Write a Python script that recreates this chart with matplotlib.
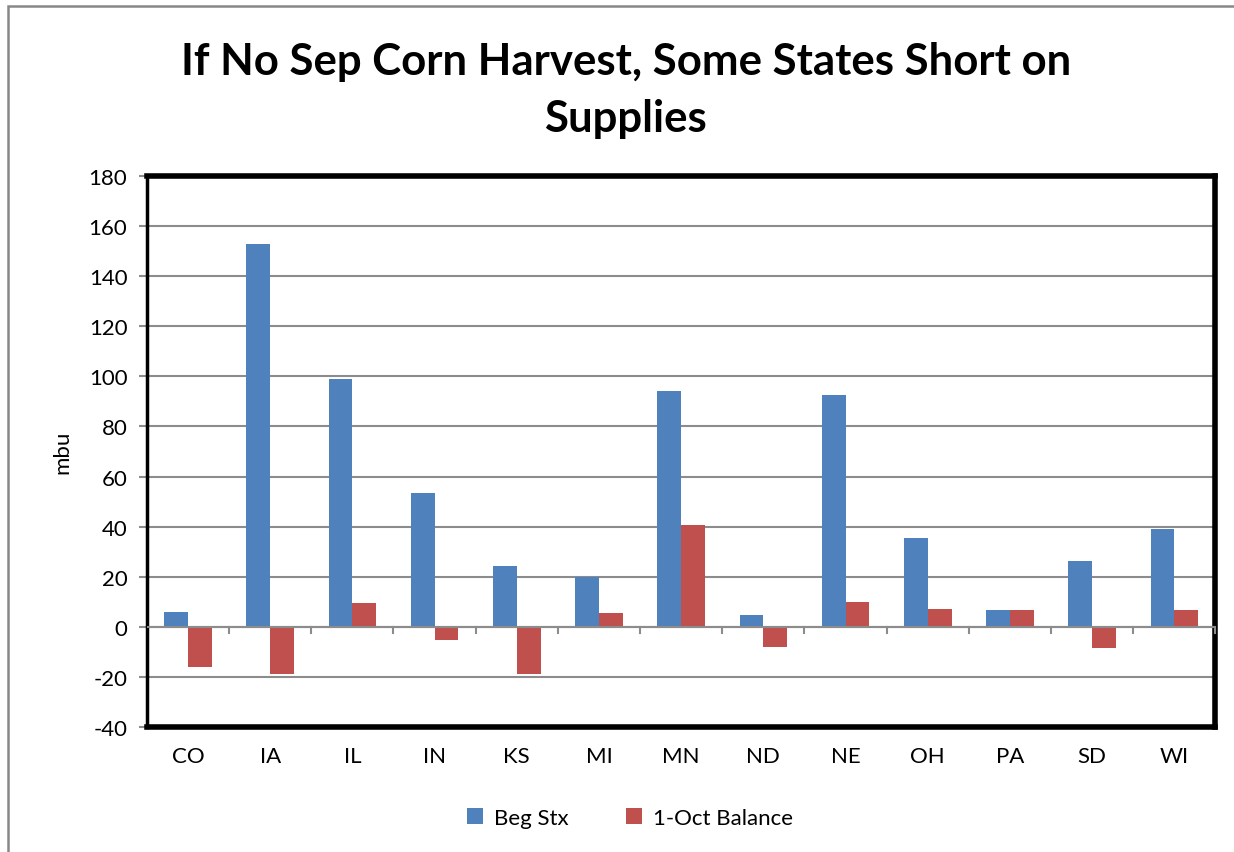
import matplotlib
matplotlib.use("Agg")
import matplotlib.pyplot as plt
from matplotlib.patches import Rectangle
import numpy as np

plt.rcParams['font.family'] = ['Lato', 'DejaVu Sans']
plt.rcParams['axes.unicode_minus'] = False

states = ["CO", "IA", "IL", "IN", "KS", "MI", "MN", "ND", "NE", "OH", "PA", "SD", "WI"]
beg_stx = [6.1, 153.0, 98.8, 53.6, 24.4, 20.0, 94.0, 4.6, 92.4, 35.6, 6.9, 26.4, 39.2]
oct_balance = [-15.9, -18.9, 9.7, -5.1, -18.7, 5.7, 40.8, -7.9, 10.1, 7.3, 6.9, -8.5, 6.9]

blue = "#4f81bd"
red = "#c0504d"

fig = plt.figure(figsize=(12.34, 8.53), dpi=100)
ax = fig.add_axes([0.119, 0.1465, 0.866, 0.646])

# chart area border (only left and top edges fall inside the image)
fig.patches.append(Rectangle((0.0065, -0.05), 1.1, 1.0415, transform=fig.transFigure,
                             fill=False, edgecolor="#888888", linewidth=1.8))

x = np.arange(len(states))
w = 0.29
ax.bar(x - w / 2, beg_stx, w, color=blue, label="Beg Stx", zorder=3)
ax.bar(x + w / 2, oct_balance, w, color=red, label="1-Oct Balance", zorder=3)

ax.set_xlim(-0.5, len(states) - 0.5)
ax.set_ylim(-40, 180)
ax.set_yticks(range(-40, 181, 20))
ax.yaxis.grid(True, color="#8c8c8c", linewidth=1.5, zorder=0)
ax.tick_params(axis="y", labelsize=16, length=6, color="#8c8c8c", width=1.5, pad=8)

# category labels below the plot, tick marks on the zero line between categories
ax.set_xticks(x)
ax.set_xticklabels(states, fontsize=16)
ax.tick_params(axis="x", length=0, pad=14)
ax.axhline(0, color="#8c8c8c", linewidth=1.5, zorder=4)
for b in np.arange(0.5, len(states), 1):
    ax.plot([b, b], [0, -2.4], color="#8c8c8c", linewidth=1.5, zorder=4, clip_on=False)

for s in ["top", "right", "bottom"]:
    ax.spines[s].set_linewidth(4)
    ax.spines[s].set_color("black")
ax.spines["left"].set_linewidth(2.5)
ax.spines["left"].set_color("black")

ax.set_ylabel("mbu", fontsize=16, labelpad=12)

fig.text(0.507, 0.894, "If No Sep Corn Harvest, Some States Short on\nSupplies",
         ha="center", va="center", fontsize=31.5, fontweight="bold", linespacing=1.5)

ax.legend(loc="upper center", bbox_to_anchor=(0.452, -0.11), ncol=2, frameon=False,
          fontsize=16, handlelength=0.7, handleheight=0.7, columnspacing=2.6, handletextpad=0.5)

fig.savefig("out.png", dpi=100)
